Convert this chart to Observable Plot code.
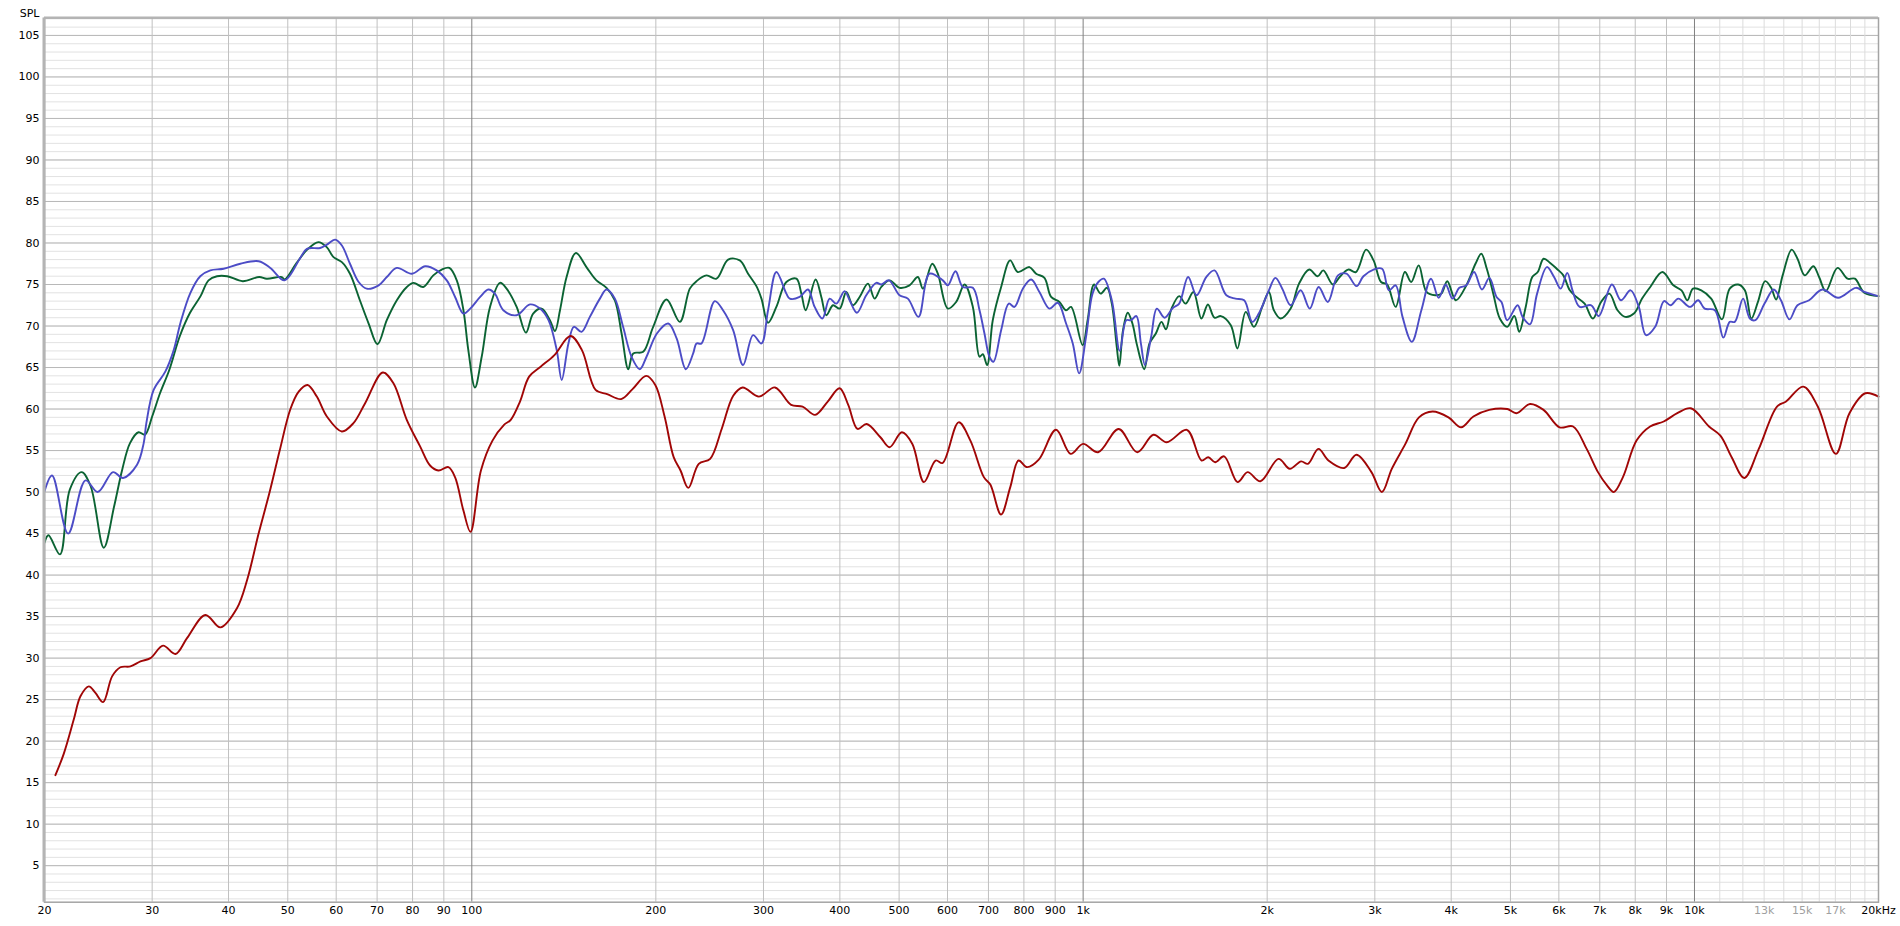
<!DOCTYPE html>
<html><head><meta charset="utf-8">
<script src="https://cdn.jsdelivr.net/npm/d3@7"></script>
<script src="https://cdn.jsdelivr.net/npm/@observablehq/plot@0.6"></script>
<style>html,body{margin:0;padding:0;background:#fff;} #chart svg{display:block;}</style>
</head><body><div id="chart"></div>
<script>
// [frequency Hz, SPL dB]
const greenSeries = [[20,43.9],[20.3,44.8],[21.2,42.5],[22.0,50.3],[23.0,52.4],[23.8,50.7],[25.0,43.3],[26.0,48.3],[26.8,52.7],[27.6,55.9],[28.5,57.2],[29.2,56.9],[30.0,59.1],[30.9,61.9],[32.0,64.7],[33.3,68.8],[34.6,71.6],[36.0,73.6],[37.1,75.5],[38.3,76.0],[39.8,76.0],[42.2,75.4],[44.9,75.9],[46.2,75.7],[48.9,75.9],[49.4,75.6],[51.7,77.6],[53.8,79.2],[56.1,80.1],[57.9,79.5],[59.4,78.3],[61.3,77.7],[63.2,76.3],[65.6,73.1],[67.8,70.3],[70.1,67.8],[72.6,70.7],[75.4,73.1],[78.3,74.7],[80.3,75.2],[83.3,74.7],[86.5,76.1],[89.3,76.8],[91.9,77.0],[94.5,75.5],[96.9,71.9],[98.7,67.1],[101.2,62.6],[103.8,66.3],[107.1,72.3],[111.2,75.2],[114.0,74.5],[118.4,72.3],[122.6,69.2],[126.0,71.5],[130.1,72.1],[134.2,70.7],[136.8,69.4],[139.4,71.9],[142.9,75.9],[148.0,78.8],[154.0,77.1],[159.9,75.5],[166.1,74.6],[171.4,73.1],[175.8,69.1],[180.3,64.8],[183.7,66.7],[190.7,66.9],[198.0,69.9],[208.2,73.2],[218.9,70.5],[227.3,74.5],[233.1,75.4],[242.0,76.1],[251.3,75.7],[262.6,78.0],[274.4,77.9],[283.1,76.3],[292.1,74.8],[297.7,73.3],[305.2,70.4],[314.9,72.3],[327.0,75.3],[339.6,75.7],[346.0,73.9],[351.7,71.9],[365.1,75.6],[373.0,73.5],[380.1,71.3],[389.8,72.5],[399.7,72.1],[409.8,74.1],[420.2,72.5],[430.9,73.5],[444.6,75.1],[455.9,73.3],[467.5,74.7],[482.4,75.5],[500.8,74.6],[520.0,74.9],[536.6,75.9],[546.8,74.5],[566.4,77.5],[578.5,76.3],[600.8,72.1],[619.9,72.9],[639.7,75.0],[660.1,72.3],[676.9,66.3],[685.3,66.6],[696.6,65.3],[711.5,70.7],[734.3,74.7],[759.6,77.9],[781.8,76.5],[816.9,77.1],[837.6,76.3],[864.4,75.8],[886.4,73.5],[914.6,72.9],[937.8,71.9],[955.5,72.3],[998,67.7],[1017,70.7],[1042,75.0],[1068,73.9],[1094,74.6],[1114,72.7],[1135,67.5],[1146,65.2],[1162,69.5],[1183,71.6],[1204,70.3],[1225,67.7],[1259,64.8],[1284,67.9],[1315,69.1],[1343,70.5],[1366,69.6],[1395,72.1],[1436,73.6],[1471,72.7],[1515,74.1],[1561,70.9],[1600,72.6],[1640,71.0],[1680,71.2],[1744,70.1],[1788,67.3],[1845,71.7],[1903,69.9],[1963,72.3],[2013,74.1],[2051,71.9],[2103,70.9],[2185,72.1],[2255,75.1],[2343,76.8],[2419,76.0],[2471,76.7],[2562,75.0],[2628,75.9],[2713,76.8],[2794,76.5],[2903,79.2],[2986,77.9],[3071,75.3],[3142,75.0],[3245,72.3],[3360,76.5],[3440,75.3],[3539,77.3],[3645,74.1],[3765,73.7],[3855,73.9],[3941,75.4],[4071,73.1],[4235,74.9],[4383,77.5],[4480,78.7],[4574,76.9],[4687,73.9],[4804,70.9],[4940,69.9],[5074,71.2],[5168,69.3],[5296,72.3],[5428,75.9],[5541,76.5],[5665,78.1],[5807,77.6],[5952,76.9],[6102,76.1],[6253,74.3],[6410,73.5],[6612,72.7],[6820,70.9],[7034,72.9],[7256,73.9],[7484,71.9],[7699,71.1],[7961,71.5],[8209,73.3],[8466,74.7],[8862,76.5],[9236,74.9],[9524,74.3],[9737,73.1],[9945,74.5],[10260,74.3],[10650,73.3],[11090,70.8],[11420,74.5],[11790,75.0],[12090,74.3],[12390,70.9],[12700,72.9],[13050,75.4],[13350,74.6],[13600,73.2],[13940,76.1],[14420,79.2],[14740,78.1],[15150,76.1],[15650,77.2],[15990,75.9],[16400,74.2],[17140,77.0],[17800,75.7],[18300,75.7],[18960,74.0],[20000,73.6]];

const blueSeries = [[20,50.1],[20.58,52.0],[21.86,45.0],[23.34,51.4],[24.44,50.0],[25.89,52.4],[26.88,51.7],[28.34,53.3],[29.06,55.9],[29.35,58.3],[30.17,62.3],[31.52,64.5],[32.54,67.1],[33.38,70.4],[34.65,74.0],[35.96,76.0],[37.35,76.7],[39.26,76.9],[41.81,77.5],[44.81,77.8],[46.82,77.0],[49.4,75.5],[52.4,78.2],[53.73,79.3],[56.49,79.4],[57.93,79.8],[59.78,80.4],[61.3,79.7],[63.2,77.5],[65.3,75.3],[67.3,74.5],[70.4,74.9],[72.6,75.9],[75.4,77.0],[79.8,76.3],[83.9,77.2],[87.6,76.7],[91.0,75.5],[93.9,73.5],[96.9,71.5],[99.4,72.1],[103.2,73.5],[106.4,74.4],[109.1,73.9],[112.6,71.9],[118.4,71.3],[124.5,72.6],[129.3,72.1],[133.5,70.7],[137.7,67.1],[140.3,63.5],[143.9,67.9],[146.9,69.9],[151.2,69.3],[156.0,71.1],[162.0,73.3],[166.1,74.4],[171.4,73.3],[176.8,69.9],[182.5,66.3],[188.3,64.8],[193.1,66.3],[200.8,69.1],[209.6,70.3],[216.3,68.5],[223.9,64.8],[230.2,66.7],[233.1,67.9],[237.5,67.9],[249.7,73.0],[257.6,71.9],[267.6,69.5],[277.8,65.3],[288.5,68.9],[297.7,67.9],[305.2,71.9],[314.9,76.5],[327.0,73.9],[331.2,73.3],[343.8,73.5],[354.8,74.4],[363.8,72.3],[374.5,70.9],[384.9,73.3],[394.7,72.7],[407.2,74.2],[415.0,73.1],[426.6,71.6],[441.8,73.7],[458.8,75.2],[467.5,75.0],[481.2,75.5],[500.8,73.7],[516.8,73.3],[537.9,71.1],[560.6,76.3],[589.5,75.5],[600.8,74.9],[618.3,76.6],[635.7,74.7],[660.1,74.6],[676.9,71.9],[689.6,69.1],[702.7,66.3],[713.3,65.7],[734.3,69.5],[755.8,72.7],[772.0,72.3],[796.8,74.5],[822.1,75.6],[848.2,74.1],[880.7,72.1],[908.8,72.8],[937.8,70.3],[961.7,67.9],[985,64.3],[1011,68.7],[1036,73.9],[1059,75.3],[1081,75.7],[1114,73.1],[1148,67.0],[1176,70.7],[1197,70.7],[1222,71.2],[1243,67.9],[1262,65.3],[1292,68.7],[1320,72.1],[1359,71.0],[1403,72.2],[1436,72.7],[1485,75.9],[1533,73.7],[1590,75.9],[1640,76.7],[1715,73.7],[1775,73.3],[1834,73.1],[1891,70.5],[1938,71.5],[2013,74.3],[2063,75.8],[2117,74.5],[2185,72.5],[2269,74.3],[2348,72.1],[2428,74.7],[2513,72.9],[2611,76.1],[2696,76.3],[2801,74.8],[2874,76.0],[2986,76.8],[3083,76.9],[3163,74.3],[3245,74.9],[3330,71.1],[3449,68.1],[3575,71.9],[3707,75.7],[3815,73.4],[3916,75.0],[4020,73.3],[4125,74.6],[4235,74.9],[4360,76.5],[4491,74.4],[4619,75.8],[4745,73.5],[4834,72.9],[4940,70.7],[5137,72.5],[5233,71.1],[5382,70.2],[5528,73.9],[5736,77.1],[5893,75.9],[6041,74.5],[6193,76.4],[6316,74.3],[6490,72.3],[6778,72.5],[6974,71.2],[7328,75.0],[7581,73.1],[7862,74.3],[8109,72.3],[8331,68.9],[8624,69.9],[8915,73.0],[9141,72.5],[9409,73.3],[9833,72.3],[10140,73.1],[10390,72.1],[10800,71.9],[11150,68.6],[11420,70.5],[11640,70.5],[12010,73.3],[12320,70.9],[12580,70.7],[13020,72.7],[13480,74.4],[13850,73.1],[14300,70.8],[14740,72.5],[15400,73.1],[16190,74.4],[17180,73.4],[18370,74.6],[18960,74.1],[20000,73.6]];

const redSeries = [[20.84,15.9],[21.51,18.5],[22.33,22.6],[22.90,25.4],[23.63,26.6],[24.23,25.8],[24.94,24.7],[25.80,27.8],[26.62,28.9],[27.64,29.0],[28.71,29.6],[29.81,30.0],[31.26,31.5],[32.75,30.5],[34.21,32.4],[36.66,35.2],[38.79,33.7],[41.29,36.0],[42.9,39.4],[44.8,45.0],[46.7,50.0],[48.5,55.0],[50.5,60.0],[52.1,62.1],[53.86,62.9],[55.78,61.5],[57.93,59.1],[61.29,57.3],[64.03,58.3],[66.91,60.7],[71.51,64.4],[74.44,63.1],[78.27,58.7],[82.30,55.5],[85.45,53.2],[88.17,52.6],[91.56,53.0],[93.88,51.8],[96.87,47.8],[99.5,45.2],[103.5,52.6],[108.1,56.2],[112.9,58.1],[115.8,58.7],[119.9,60.9],[124.1,63.9],[129.6,65.1],[136.5,66.5],[145,68.8],[151.4,67.1],[159.4,62.3],[166.5,61.8],[175.5,61.2],[183.2,62.4],[192.9,64.0],[199.6,62.9],[206.7,59.1],[213.9,54.2],[219.5,52.6],[226,50.5],[235.1,53.4],[245.4,54.0],[256.3,57.6],[267.7,61.6],[277.3,62.6],[294.9,61.5],[313.3,62.6],[332.9,60.5],[347.6,60.3],[364.4,59.3],[382.1,60.9],[399.6,62.5],[412.8,60.5],[427.6,57.6],[442.5,58.2],[466,56.6],[482.3,55.4],[505.3,57.2],[525.6,55.8],[549,51.2],[573.7,53.8],[589,53.5],[625.7,58.4],[654,56.2],[688,51.8],[705,50.9],[734,47.3],[760,50.6],[784,53.8],[810,53.0],[846,53.9],[903,57.5],[954,54.6],[1000,55.8],[1058,54.8],[1143,57.6],[1226,54.8],[1303,56.9],[1370,56.0],[1478,57.5],[1562,53.8],[1602,54.2],[1644,53.6],[1701,54.3],[1789,51.2],[1858,52.4],[1950,51.3],[2087,54.0],[2178,52.8],[2273,53.7],[2332,53.4],[2426,55.2],[2519,53.8],[2673,52.9],[2800,54.5],[2962,52.4],[3081,50.0],[3198,52.8],[3366,55.8],[3543,59.0],[3729,59.7],[3959,59.0],[4153,57.8],[4349,59.1],[4616,59.9],[4942,60.0],[5114,59.5],[5382,60.6],[5664,59.9],[6015,57.8],[6331,57.9],[6663,55.2],[6953,52.4],[7194,50.8],[7381,50.0],[7638,51.8],[8039,56.2],[8461,57.9],[8905,58.5],[9373,59.5],[9865,60.1],[10564,57.9],[11025,56.8],[11504,54.2],[12065,51.7],[12741,55.2],[13646,60.3],[14119,60.9],[15066,62.7],[15911,60.3],[17032,54.6],[17928,59.5],[19034,61.9],[20000,61.5]];

const xTickValues = [20,30,40,50,60,70,80,90,100,200,300,400,500,600,700,800,900,1000,2000,3000,4000,5000,6000,7000,8000,9000,10000,20000];
const xTickLabels = ["20","30","40","50","60","70","80","90","100","200","300","400","500","600","700","800","900","1k","2k","3k","4k","5k","6k","7k","8k","9k","10k","20kHz"];
const xGrayTickValues = [13000,15000,17000];
const xGrayTickLabels = ["13k","15k","17k"];
const yTickValues = d3.range(5, 106, 5);
const yMinorValues = d3.range(1, 108);
const gridRegular = [30,40,50,60,70,80,90,200,300,400,500,600,700,800,900,2000,3000,4000,5000,6000,7000,8000,9000];
const gridDecade = [100,1000,10000];
const gridHigh = [11000,12000,13000,14000,15000,16000,17000,18000,19000];

const rows = (arr) => arr.map(([f, v]) => ({f, v}));
const font = "DejaVu Sans, Verdana, sans-serif";

const chart = Plot.plot({
  width: 1900,
  height: 926,
  marginLeft: 44,
  marginRight: 22,
  marginTop: 17.5,
  marginBottom: 24.3,
  style: {background: "#ffffff", fontFamily: font, fontSize: "11px", color: "#000"},
  x: {type: "log", domain: [20, 20000], axis: null},
  y: {domain: [0.6, 107.1], axis: null},
  marks: [
    Plot.ruleY(yMinorValues, {stroke: "#e2e2e2", strokeWidth: 1}),
    Plot.ruleY(yTickValues, {stroke: "#b8b8b8", strokeWidth: 1}),
    Plot.ruleX(gridHigh, {stroke: "#dcdcdc", strokeWidth: 1}),
    Plot.ruleX(gridRegular, {stroke: "#c0c0c0", strokeWidth: 1}),
    Plot.ruleX(gridDecade, {stroke: "#808080", strokeWidth: 1}),
    Plot.line(rows(greenSeries), {x: "f", y: "v", stroke: "#0b6333", strokeWidth: 1.9, curve: "catmull-rom"}),
    Plot.line(rows(blueSeries), {x: "f", y: "v", stroke: "#4c4cc6", strokeWidth: 1.9, curve: "catmull-rom"}),
    Plot.line(rows(redSeries), {x: "f", y: "v", stroke: "#a00606", strokeWidth: 1.9, curve: "catmull-rom"}),
    Plot.frame({stroke: "#a4a4a4", strokeWidth: 1.5}),
    Plot.ruleX([20], {stroke: "#b4b4b4", strokeWidth: 3, dx: -0.5}),
    Plot.ruleY([107.1], {stroke: "#b4b4b4", strokeWidth: 2, dy: -0.5}),
    Plot.text(yTickValues, {y: d => d, frameAnchor: "left", dx: -5, textAnchor: "end", fill: "#000", fontSize: 11, fontFamily: font}),
    Plot.text(["SPL"], {frameAnchor: "top-left", dx: -5, dy: -9, textAnchor: "end", fill: "#000", fontSize: 11, fontFamily: font}),
    Plot.text(xTickValues, {x: d => d, text: (d, i) => xTickLabels[i], frameAnchor: "bottom", dy: 11.5, fill: "#000", fontSize: 11, fontFamily: font}),
    Plot.text(xGrayTickValues, {x: d => d, text: (d, i) => xGrayTickLabels[i], frameAnchor: "bottom", dy: 11.5, fill: "#a0a0a0", fontSize: 11, fontFamily: font})
  ]
});
document.getElementById("chart").appendChild(chart);
</script>
</body></html>
